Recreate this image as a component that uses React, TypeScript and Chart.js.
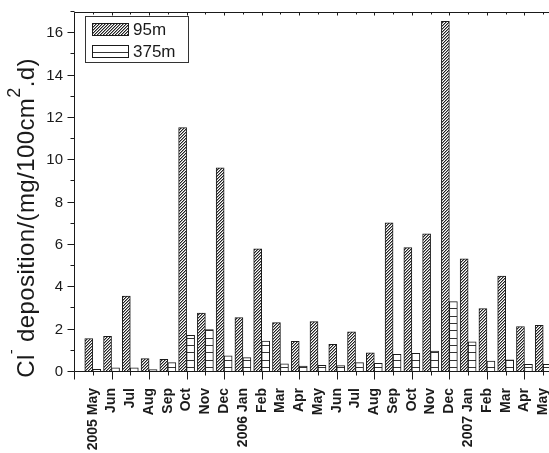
import React, { useEffect, useRef } from 'react';
import { Chart, registerables } from 'chart.js';

Chart.register(...registerables);

const CATEGORIES = [
  '2005 May', 'Jun', 'Jul', 'Aug', 'Sep', 'Oct', 'Nov', 'Dec',
  '2006 Jan', 'Feb', 'Mar', 'Apr', 'May', 'Jun', 'Jul', 'Aug', 'Sep', 'Oct', 'Nov', 'Dec',
  '2007 Jan', 'Feb', 'Mar', 'Apr', 'May',
];
const SERIES_LABELS = ['95m', '375m'];
const SERIES_95M = [
  1.58, 1.68, 3.58, 0.63, 0.60, 11.54, 2.78, 9.64,
  2.57, 5.82, 2.33, 1.45, 2.38, 1.31, 1.90, 0.91, 7.05, 5.87, 6.52, 16.56,
  5.34, 2.99, 4.53, 2.15, 2.20,
];
const SERIES_375M = [
  0.13, 0.20, 0.20, 0.11, 0.44, 1.73, 2.00, 0.76,
  0.68, 1.46, 0.39, 0.28, 0.32, 0.30, 0.44, 0.41, 0.83, 0.88, 0.99, 3.32,
  1.43, 0.52, 0.58, 0.36, 0.36,
];
const Y_MIN = 0;
const Y_MAX = 17;
const X_MIN = 0;
const X_MAX = 26;

const FONT = '"Liberation Sans", Arial, Helvetica, sans-serif';
const INK = '#1a1a1a';

function makeHatch(): CanvasPattern | string {
  const c = document.createElement('canvas');
  c.width = 3;
  c.height = 3;
  const g = c.getContext('2d');
  if (!g) return '#888';
  g.fillStyle = '#fff';
  g.fillRect(0, 0, 3, 3);
  for (let i = 0; i < 3; i++) {
    g.fillStyle = '#222';
    g.fillRect(2 - i, i, 1, 1);
    g.fillStyle = '#999';
    g.fillRect((3 - i) % 3, i, 1, 1);
  }
  return g.createPattern(c, 'repeat') || '#888';
}

function makeHLines(): CanvasPattern | string {
  const c = document.createElement('canvas');
  c.width = 4;
  c.height = 22;
  const g = c.getContext('2d');
  if (!g) return '#fff';
  g.fillStyle = '#fff';
  g.fillRect(0, 0, 4, 22);
  g.fillStyle = '#333';
  [0, 8, 15].forEach((r) => g.fillRect(0, r, 4, 1));
  return g.createPattern(c, 'repeat') || '#fff';
}

export default function App() {
  const ref = useRef<HTMLCanvasElement>(null);

  useEffect(() => {
    const canvas = ref.current;
    if (!canvas) return;
    const hatch = makeHatch();
    const hlines = makeHLines();

    const decor = {
      id: 'decor',
      afterDatasetsDraw(chart: any) {
        const { ctx, chartArea } = chart;
        const { left, top, right, bottom } = chartArea;
        const xs = chart.scales.x;
        const ys = chart.scales.y;
        ctx.save();
        ctx.strokeStyle = INK;
        ctx.lineWidth = 1;
        const L = Math.round(left) + 0.5;
        const B = Math.round(bottom) - 0.5;
        const T = Math.round(top) + 0.5;
        ctx.beginPath();
        ctx.moveTo(L, T);
        ctx.lineTo(L, B);
        ctx.lineTo(right, B);
        ctx.moveTo(L, T);
        ctx.lineTo(right, T);
        ctx.moveTo(Math.round(right) - 0.5, T);
        ctx.lineTo(Math.round(right) - 0.5, B);
        for (let v = Y_MIN; v <= Y_MAX; v++) {
          const py = Math.round(ys.getPixelForValue(v)) - 0.5;
          const len = v % 2 === 0 ? 7 : 4;
          ctx.moveTo(L - len, py);
          ctx.lineTo(L, py);
        }
        for (let v = X_MIN; v <= X_MAX; v++) {
          const px = Math.round(xs.getPixelForValue(v)) + 0.5;
          const len = v % 2 === 0 ? 8 : 4;
          ctx.moveTo(px, B);
          ctx.lineTo(px, B + len);
          ctx.moveTo(px, T);
          ctx.lineTo(px, T + (v % 2 === 0 ? 3 : 2));
        }
        ctx.stroke();

        // legend
        const bx = 85.5, by = 16.5, bw = 103, bh = 46;
        ctx.fillStyle = '#fff';
        ctx.fillRect(bx, by, bw, bh);
        ctx.strokeStyle = '#333';
        ctx.strokeRect(bx, by, bw, bh);
        const rows = [23, 45];
        chart.data.datasets.forEach((ds: any, i: number) => {
          const sy = rows[i];
          ctx.fillStyle = ds.backgroundColor;
          ctx.fillRect(92, sy, 37, 12);
          ctx.strokeStyle = INK;
          ctx.strokeRect(92.5, sy + 0.5, 36, 12);
          ctx.fillStyle = INK;
          ctx.font = `17px ${FONT}`;
          ctx.textAlign = 'left';
          ctx.textBaseline = 'middle';
          ctx.fillText(ds.label, 133, sy + 7);
        });

        // y title with superscripts
        const parts = [
          { t: 'Cl', size: 24, rise: 0 },
          { t: '-', size: 15, rise: 18 },
          { t: ' deposition/(mg/100cm', size: 24, rise: 0 },
          { t: '2', size: 18, rise: 14 },
          { t: '.d)', size: 24, rise: 0 },
        ];
        ctx.translate(34, 218);
        ctx.rotate(-Math.PI / 2);
        ctx.textAlign = 'left';
        ctx.textBaseline = 'alphabetic';
        (ctx as any).letterSpacing = '0.4px';
        let total = 0;
        const widths = parts.map((p) => {
          ctx.font = `${p.size}px ${FONT}`;
          const w = ctx.measureText(p.t).width;
          total += w;
          return w;
        });
        let cx = -total / 2;
        ctx.fillStyle = INK;
        parts.forEach((p, i) => {
          ctx.font = `${p.size}px ${FONT}`;
          ctx.fillText(p.t, cx, -p.rise);
          cx += widths[i];
        });
        ctx.restore();
      },
    };

    const chart = new Chart(canvas, {
      type: 'bar',
      data: {
        datasets: [
          {
            label: SERIES_LABELS[0],
            data: SERIES_95M.map((y, i) => ({ x: i + 1, y })),
            backgroundColor: hatch as any,
            borderColor: INK,
            borderWidth: 1,
            barThickness: 8,
          },
          {
            label: SERIES_LABELS[1],
            data: SERIES_375M.map((y, i) => ({ x: i + 1, y })),
            backgroundColor: hlines as any,
            borderColor: INK,
            borderWidth: 1,
            barThickness: 8,
          },
        ],
      },
      options: {
        animation: false,
        responsive: false,
        maintainAspectRatio: false,
        layout: { padding: { top: 12, left: 0, right: 0, bottom: 0 } },
        plugins: { legend: { display: false }, tooltip: { enabled: false } },
        scales: {
          x: {
            type: 'linear',
            min: X_MIN,
            max: X_MAX,
            offset: false,
            grid: { display: false, drawTicks: false, offset: false },
            border: { display: false },
            ticks: {
              stepSize: 1,
              autoSkip: false,
              maxRotation: 90,
              minRotation: 90,
              padding: 16,
              color: INK,
              font: { family: FONT, size: 14, weight: 'bold' },
              callback: (v: any) => CATEGORIES[Number(v) - 1] ?? '',
            },
            afterFit: (s: any) => {
              s.height = 81;
              s.paddingLeft = 0;
              s.paddingRight = 0;
              s.paddingTop = 0;
              s.paddingBottom = 0;
            },
          },
          y: {
            type: 'linear',
            min: Y_MIN,
            max: Y_MAX,
            grid: { display: false, drawTicks: false },
            border: { display: false },
            ticks: {
              stepSize: 1,
              autoSkip: false,
              padding: 11,
              color: INK,
              font: { family: FONT, size: 15 },
              callback: (v: any) => (Number(v) % 2 === 0 ? String(v) : ''),
            },
            afterFit: (s: any) => {
              s.width = 74;
              s.paddingLeft = 0;
              s.paddingRight = 0;
              s.paddingTop = 0;
              s.paddingBottom = 0;
            },
          },
        },
      } as any,
      plugins: [decor],
    });
    return () => chart.destroy();
  }, []);

  return (
    <div
      style={{
        position: 'fixed',
        left: 0,
        top: 0,
        width: 549,
        height: 453,
        overflow: 'hidden',
        background: '#fff',
      }}
    >
      <canvas ref={ref} width={562} height={453} style={{ display: 'block' }} />
    </div>
  );
}
